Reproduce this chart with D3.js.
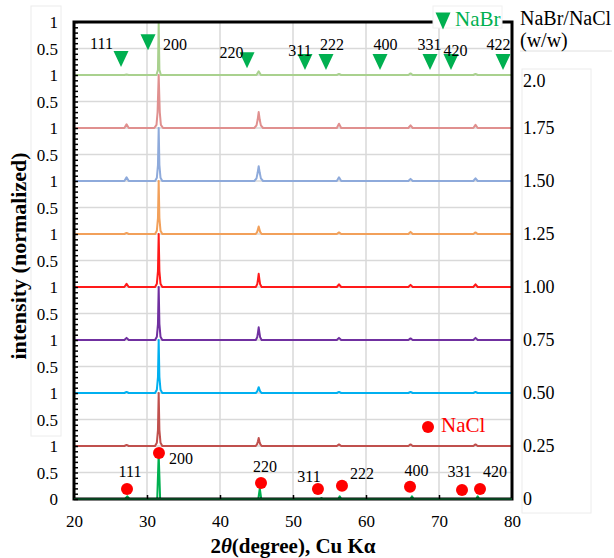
<!DOCTYPE html>
<html><head><meta charset="utf-8">
<script src="https://cdn.jsdelivr.net/npm/d3@7/dist/d3.min.js"></script>
<style>body{margin:0;background:#fff}svg{display:block}</style>
</head><body><svg id="c" width="614" height="558"></svg>
<script>
// ---------- data ----------
const ratioLabels = ["0","0.25","0.50","0.75","1.00","1.25","1.50","1.75","2.0"];
const ratioLabelPos = [0,1,2,3,4,5,6,7,7.88];

const refNaCl = [[20,0],[27.0,0],[27.3,0.05],[27.6,0],[31.4,0],[31.6,0.85],[31.8,0],[45.25,0],[45.45,0.2],[45.65,0],[53.7,0],[53.9,0.02],[54.1,0],[56.2,0],[56.4,0.05],[56.6,0],[66.1,0],[66.3,0.05],[66.5,0],[75.1,0],[75.3,0.05],[75.5,0],[80,0]];
const s025 = [[20,0],[26.9,0],[27.2,0.02],[27.5,0],[31.1,0],[31.35,0.06],[31.5,0.3],[31.6,1],[31.7,0.3],[31.85,0.06],[32.1,0],[44.9,0],[45.1,0.04],[45.2,0.09],[45.3,0.15],[45.4,0.09],[45.5,0.04],[45.7,0],[56.0,0],[56.3,0.03],[56.6,0],[65.8,0],[66.1,0.03],[66.4,0],[74.7,0],[75.0,0.03],[75.3,0],[80,0]];
const s050 = [[20,0],[26.9,0],[27.2,0.02],[27.5,0],[31.1,0],[31.35,0.06],[31.5,0.3],[31.6,1],[31.7,0.3],[31.85,0.06],[32.1,0],[44.9,0],[45.1,0.03],[45.2,0.07],[45.3,0.11],[45.4,0.07],[45.5,0.03],[45.7,0],[56.0,0],[56.3,0.02],[56.6,0],[65.8,0],[66.1,0.02],[66.4,0],[74.7,0],[75.0,0.02],[75.3,0],[80,0]];
const s075 = [[20,0],[26.9,0],[27.2,0.04],[27.5,0],[31.1,0],[31.35,0.06],[31.5,0.3],[31.6,1],[31.7,0.3],[31.85,0.06],[32.1,0],[44.9,0],[45.1,0.05],[45.2,0.14],[45.3,0.24],[45.4,0.14],[45.5,0.05],[45.7,0],[56.0,0],[56.3,0.04],[56.6,0],[65.8,0],[66.1,0.03],[66.4,0],[74.7,0],[75.0,0.04],[75.3,0],[80,0]];
const s100 = [[20,0],[26.9,0],[27.2,0.06],[27.5,0],[31.1,0],[31.35,0.06],[31.5,0.3],[31.6,1],[31.7,0.3],[31.85,0.06],[32.1,0],[44.9,0],[45.1,0.05],[45.2,0.14],[45.3,0.25],[45.4,0.14],[45.5,0.05],[45.7,0],[56.0,0],[56.3,0.05],[56.6,0],[65.8,0],[66.1,0.04],[66.4,0],[74.7,0],[75.0,0.05],[75.3,0],[80,0]];
const s125 = [[20,0],[26.9,0],[27.2,0.02],[27.5,0],[31.1,0],[31.35,0.06],[31.5,0.3],[31.6,1],[31.7,0.3],[31.85,0.06],[32.1,0],[44.9,0],[45.1,0.04],[45.2,0.09],[45.3,0.14],[45.4,0.09],[45.5,0.04],[45.7,0],[56.0,0],[56.3,0.03],[56.6,0],[65.8,0],[66.1,0.04],[66.4,0],[74.7,0],[75.0,0.03],[75.3,0],[80,0]];
const s150 = [[20,0],[26.9,0],[27.2,0.07],[27.5,0],[31.1,0],[31.35,0.06],[31.5,0.3],[31.6,1],[31.7,0.3],[31.85,0.06],[32.1,0],[44.7,0],[45.0,0.05],[45.15,0.15],[45.3,0.28],[45.45,0.15],[45.6,0.05],[45.9,0],[56.0,0],[56.3,0.07],[56.6,0],[65.8,0],[66.1,0.04],[66.4,0],[74.7,0],[75.0,0.05],[75.3,0],[80,0]];
const s175 = [[20,0],[26.9,0],[27.2,0.07],[27.5,0],[31.0,0],[31.3,0.06],[31.45,0.3],[31.6,1],[31.75,0.3],[31.9,0.06],[32.2,0],[44.7,0],[45.0,0.05],[45.15,0.15],[45.3,0.30],[45.45,0.15],[45.6,0.05],[45.9,0],[56.0,0],[56.3,0.08],[56.6,0],[65.8,0],[66.1,0.05],[66.4,0],[74.7,0],[75.0,0.06],[75.3,0],[80,0]];
const s200 = [[20,0],[26.9,0],[27.2,0.01],[27.5,0],[31.3,0],[31.5,0.1],[31.6,1],[31.7,0.1],[31.9,0],[45.0,0],[45.3,0.07],[45.6,0],[56.0,0],[56.3,0.02],[56.6,0],[65.8,0],[66.1,0.03],[66.4,0],[74.7,0],[75.0,0.02],[75.3,0],[80,0]];

const seriesData = [refNaCl, s025, s050, s075, s100, s125, s150, s175, s200];
const seriesOffsets = [0,1,2,3,4,5,6,7,8];
const seriesColors = ["#00b050","#c0504d","#00b0f0","#7030a0","#ff1a1a","#f2a05a","#8eaadb","#e0908f","#a9d18e"];

const nabrHkl = ["111","200","220","311","222","400","331","420","422"];
const nabrX = [26.44,30.14,43.70,51.64,54.52,61.92,68.77,71.64,78.77];
const nabrY = [8.30,8.62,8.28,8.245,8.245,8.245,8.245,8.245,8.245];
const nabrLabelX = [23.77,33.84,41.58,50.96,55.34,62.67,68.70,72.26,78.15];
const nabrLabelY = [8.60,8.57,8.42,8.47,8.57,8.57,8.57,8.47,8.57];

const naclHkl = ["111","200","220","311","222","400","331","420"];
const naclX = [27.26,31.64,45.62,53.42,56.71,66.03,73.15,75.62];
const naclY = [0.19,0.87,0.30,0.19,0.25,0.23,0.17,0.19];
const naclLabelX = [27.67,34.66,46.16,52.19,59.45,66.92,72.81,77.67];
const naclLabelY = [0.51,0.77,0.62,0.42,0.49,0.53,0.51,0.51];

const xTicks = [20,30,40,50,60,70,80];
const yTicks = d3.range(0, 9.001, 0.5);

// ---------- drawing ----------
const FONT = "'Liberation Serif','Times New Roman',serif";
const svg = d3.select("#c").style("font-family", FONT);
const m = {l:74, r:512, t:22, b:499};
const x = d3.scaleLinear().domain([20,80]).range([m.l,m.r]);
const y = d3.scaleLinear().domain([0,9]).range([m.b,m.t]);

// faint label boxes
svg.append("rect").attr("x",31).attr("y",6).attr("width",30).attr("height",430)
  .attr("fill","#fff").attr("stroke","#ececec").attr("stroke-width",1);
svg.append("rect").attr("x",522).attr("y",69).attr("width",69).attr("height",444)
  .attr("fill","#fff").attr("stroke","#ececec").attr("stroke-width",1);
svg.append("line").attr("x1",520).attr("x2",612).attr("y1",51).attr("y2",51)
  .attr("stroke","#e0e0e0").attr("stroke-width",1);

// grid
const grid = svg.append("g");
grid.selectAll("line.h").data(yTicks.filter(v=>v>0&&v<9)).join("line")
  .attr("x1",m.l).attr("x2",m.r).attr("y1",d=>y(d)).attr("y2",d=>y(d))
  .attr("stroke","#d9d9d9").attr("stroke-width",1.5);
grid.selectAll("line.v").data(xTicks.filter(v=>v>20&&v<80)).join("line")
  .attr("y1",m.t).attr("y2",m.b).attr("x1",d=>x(d)).attr("x2",d=>x(d))
  .attr("stroke","#d9d9d9").attr("stroke-width",1.5);

// traces
const line = d3.line().x(d=>x(d[0]));
seriesData.forEach((s,i)=>{
  const off = seriesOffsets[i];
  svg.append("path").datum(s)
    .attr("d", line.y(d=>y(d[1]+off))(s))
    .attr("fill","none").attr("stroke",seriesColors[i])
    .attr("stroke-width", 2).attr("stroke-linejoin","round");
});

// frame
svg.append("rect").attr("x",m.l).attr("y",m.t).attr("width",m.r-m.l).attr("height",m.b-m.t)
  .attr("fill","none").attr("stroke","#000").attr("stroke-width",3);
svg.append("line").attr("x1",m.l).attr("x2",m.r).attr("y1",m.b).attr("y2",m.b)
  .attr("stroke","#0a5a2a").attr("stroke-width",1.5);

// minor ticks on left axis
const minor = svg.append("g").attr("transform",`translate(${m.l},0)`)
  .call(d3.axisRight(y).tickValues(d3.range(0,9.001,0.1)).tickSize(4).tickFormat(""));
minor.select(".domain").remove();
minor.selectAll("line").attr("stroke","#000").attr("stroke-width",1.5);

// x ticks inward
const xin = svg.append("g").attr("transform",`translate(0,${m.b})`)
  .call(d3.axisTop(x).tickValues(xTicks.slice(1,-1)).tickSize(4).tickFormat(""));
xin.select(".domain").remove();
xin.selectAll("line").attr("stroke","#000").attr("stroke-width",1.5);

// y labels
const ya = svg.append("g").attr("transform",`translate(${m.l},0)`)
  .call(d3.axisLeft(y).tickValues(yTicks).tickSize(0).tickPadding(16)
    .tickFormat(v=> v===0 ? "0" : (Math.abs(v%1)<1e-9 ? "1" : "0.5")));
ya.select(".domain").remove();
ya.selectAll("text").attr("dy",null).attr("dominant-baseline","central")
  .style("font-family",FONT).style("font-size","17px").attr("fill","#000");

// x labels
const xa = svg.append("g").attr("transform",`translate(0,${m.b})`)
  .call(d3.axisBottom(x).tickValues(xTicks).tickSize(0));
xa.select(".domain").remove();
xa.selectAll("text").attr("y",22).attr("dy",null).attr("dominant-baseline","central")
  .style("font-family",FONT).style("font-size","17px").attr("fill","#000");

// right ratio labels
svg.append("g").selectAll("text").data(ratioLabels).join("text")
  .attr("x",523).attr("y",(d,i)=>y(ratioLabelPos[i]))
  .attr("dominant-baseline","central").style("font-size","18px").text(d=>d);
svg.append("text").attr("x",520).attr("y",18).attr("dominant-baseline","central")
  .style("font-size","20px").text("NaBr/NaCl");
svg.append("text").attr("x",520).attr("y",40).attr("dominant-baseline","central")
  .style("font-size","20px").text("(w/w)");

// NaBr markers
const tri = (cx,cy,w,h)=>`M${cx-w/2},${cy-h/2}L${cx+w/2},${cy-h/2}L${cx},${cy+h/2}Z`;
const green = "#00b050";
svg.append("g").selectAll("path").data(nabrX).join("path")
  .attr("d",(d,i)=>tri(x(d),y(nabrY[i]),15,16)).attr("fill",green);
svg.append("g").selectAll("text").data(nabrHkl).join("text")
  .attr("x",(d,i)=>x(nabrLabelX[i])).attr("y",(d,i)=>y(nabrLabelY[i]))
  .attr("text-anchor","middle").attr("dominant-baseline","central")
  .style("font-size","16px").text(d=>d);

// NaBr legend
svg.append("rect").attr("x",433).attr("y",6).attr("width",69).attr("height",22)
  .attr("fill","#fff").attr("stroke","#f0f0f0");
svg.append("path").attr("d",tri(443,21,15,17)).attr("fill",green);
svg.append("text").attr("x",455).attr("y",19).attr("dominant-baseline","central")
  .style("font-size","21px").attr("fill",green).text("NaBr");

// NaCl markers
const red = "#ff0000";
svg.append("g").selectAll("circle").data(naclX).join("circle")
  .attr("cx",d=>x(d)).attr("cy",(d,i)=>y(naclY[i])).attr("r",6).attr("fill",red);
svg.append("g").selectAll("text").data(naclHkl).join("text")
  .attr("x",(d,i)=>x(naclLabelX[i])).attr("y",(d,i)=>y(naclLabelY[i]))
  .attr("text-anchor","middle").attr("dominant-baseline","central")
  .style("font-size","16px").text(d=>d);
svg.append("circle").attr("cx",428).attr("cy",427).attr("r",6).attr("fill",red);
svg.append("text").attr("x",441).attr("y",425).attr("dominant-baseline","central")
  .style("font-size","21px").attr("fill",red).text("NaCl");

// axis titles
svg.append("text").attr("transform",`translate(18,256) rotate(-90)`)
  .attr("text-anchor","middle").attr("dominant-baseline","central")
  .style("font-size","22px").style("font-weight","bold").text("intensity (normalized)");
const xt = svg.append("text").attr("x",293).attr("y",546).attr("text-anchor","middle")
  .attr("dominant-baseline","central").style("font-size","21px").style("font-weight","bold");
xt.append("tspan").text("2");
xt.append("tspan").style("font-style","italic").text("θ");
xt.append("tspan").text("(degree), Cu Kα");
</script></body></html>
